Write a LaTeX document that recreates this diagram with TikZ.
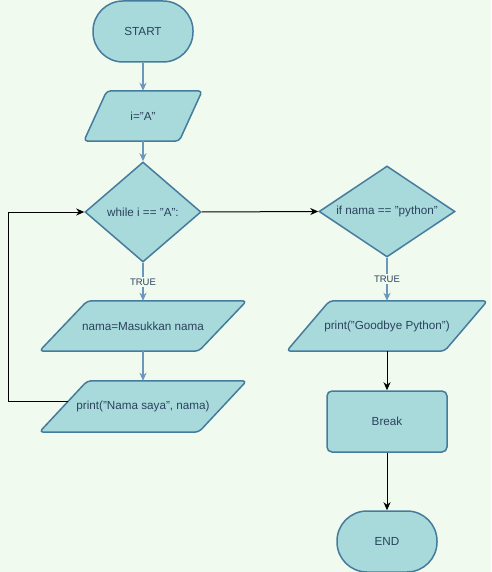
\documentclass[tikz,border=0pt]{standalone}
\usepackage{fontspec}
\setmainfont{Liberation Sans}
\usetikzlibrary{shapes.geometric,arrows.meta}
\definecolor{bgc}{HTML}{F1FAEE}
\definecolor{fillc}{HTML}{A8DADC}
\definecolor{edgec}{HTML}{457B9D}
\definecolor{txtc}{HTML}{2A425E}
\definecolor{linkc}{HTML}{6B98BA}
\pgfdeclarelayer{bg}\pgfdeclarelayer{shp}\pgfsetlayers{bg,shp,main}
\tikzset{
  base/.style={draw=edgec, fill=fillc, line width=1.5pt, text=txtc,
    font=\fontsize{11.7}{14}\selectfont, inner sep=0pt},
  term/.style={base, rectangle, rounded corners=30pt, minimum width=100pt, minimum height=61pt},
  proc/.style={base, rectangle, rounded corners=5pt, minimum width=120pt, minimum height=61pt},
  dec/.style={base, diamond},
  iobox/.style={rectangle, text=txtc, font=\fontsize{11.7}{14}\selectfont, inner sep=0pt, minimum height=50pt},
  para/.style={draw=edgec, fill=fillc, line width=1.5pt, rounded corners=4pt, line join=round},
  blink/.style={draw=linkc, line width=1.5pt, -{Stealth[length=8pt,width=7pt,inset=2.5pt]}},
  klink/.style={draw=black, line width=1pt, -{Stealth[length=8pt,width=7pt,inset=2.5pt]}},
  lbl/.style={fill=bgc, text=txtc, font=\fontsize{9.5}{11}\selectfont, inner sep=1.5pt}
}
\newcommand\drawpara[2]{%
  \begin{pgfonlayer}{shp}
  \path[para] ([xshift=#2]#1.north west) -- ([xshift=#2]#1.north east)
     -- ([xshift=-#2]#1.south east) -- ([xshift=-#2]#1.south west) -- cycle;
  \end{pgfonlayer}}
\begin{document}
\begin{tikzpicture}[x=1pt,y=-1pt]
\begin{pgfonlayer}{bg}
\fill[bgc] (0,0) rectangle (491,572);
\end{pgfonlayer}
\useasboundingbox (0,0) rectangle (491,572);

\node[term] (start) at (143,31.5) {START};
\node[iobox, minimum width=95pt] (ia) at (143,116) {i="A"};
\drawpara{ia}{11.5pt}
\node[dec, shape aspect=1.16, minimum width=116pt, minimum height=100pt] (wh) at (143,212) {while i == "A":};
\node[iobox, minimum width=159pt, minimum height=50pt] (nm) at (143,326) {nama=Masukkan nama};
\drawpara{nm}{24pt}
\node[iobox, minimum width=159pt, minimum height=51pt] (pr) at (143,406.5) {print("Nama saya", nama)};
\drawpara{pr}{24pt}
\node[dec, shape aspect=1.5, minimum width=136pt, minimum height=91pt] (ifd) at (387,211.5) {if nama == "python"};
\node[iobox, minimum width=157.5pt] (gb) at (387,326) {print("Goodbye Python")};
\drawpara{gb}{21.5pt}
\node[proc] (brk) at (387,421.5) {Break};
\node[term] (end) at (387,541.5) {END};

\coordinate (lp) at (8,212);

\draw[blink] (start) -- (ia);
\draw[blink] (ia) -- (wh);
\draw[blink] (wh) -- node[lbl] (t1) {TRUE} (nm);
\draw[blink] (nm) -- (pr);
\draw[klink] ([xshift=5pt,yshift=5pt]pr.west) -| (lp) -- (wh.west);
\draw[klink] (wh.east) -- (ifd.west);
\draw[blink] (ifd) -- node[lbl] (t2) {TRUE} (gb);
\draw[klink] (gb) -- (brk);
\draw[klink] (brk) -- (end);
\end{tikzpicture}
\end{document}
